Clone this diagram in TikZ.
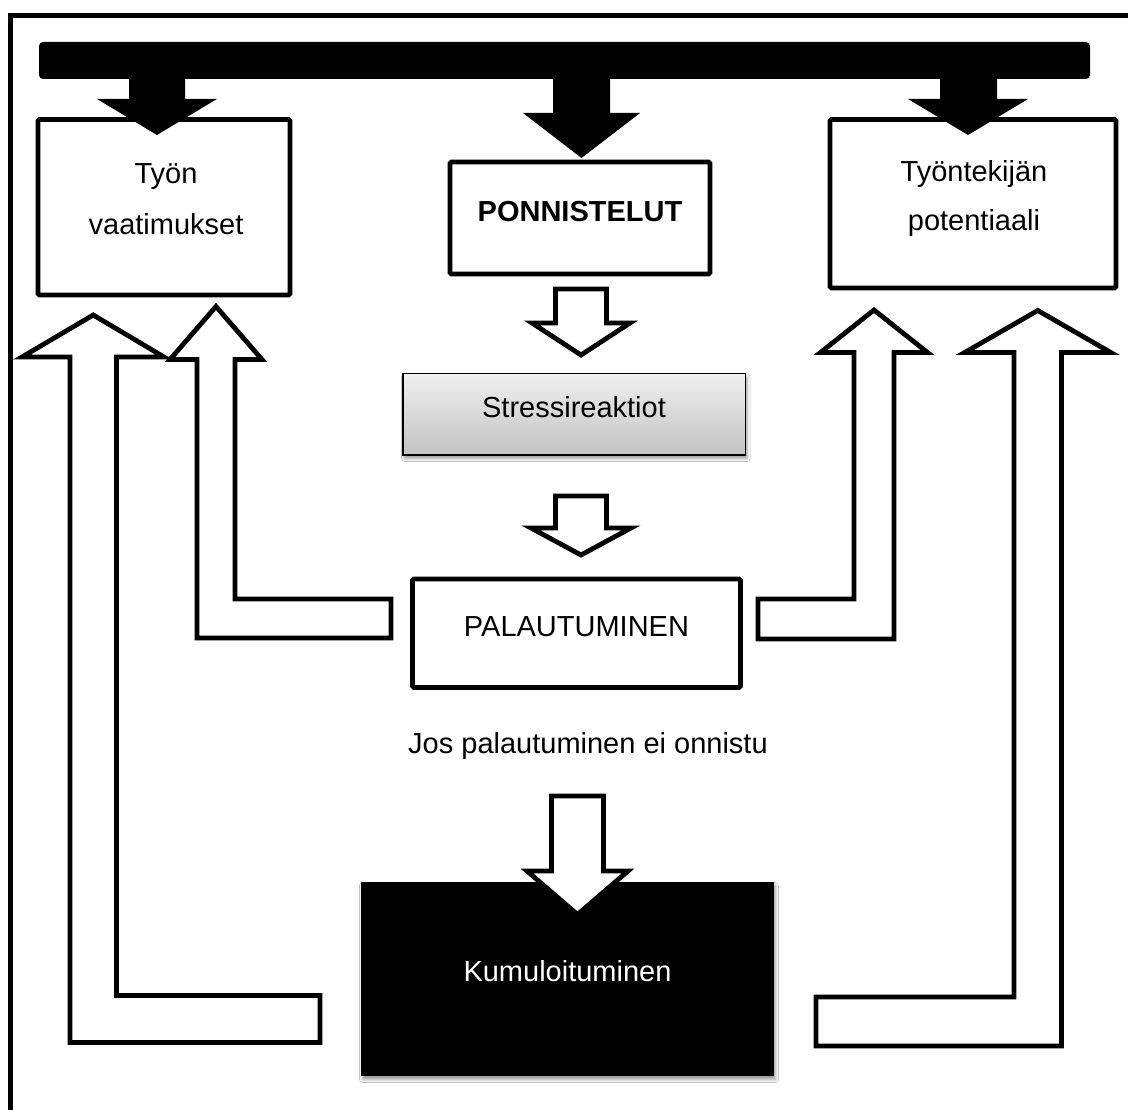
\documentclass[tikz,border=0pt]{standalone}
\usepackage{fontspec}
\setmainfont{Liberation Sans}
\usetikzlibrary{shadows.blur}

\begin{document}
\begin{tikzpicture}[x=1pt,y=-1pt,
  box/.style={draw, line width=4.8pt, fill=white, rounded corners=1.5pt, inner sep=0pt},
  lbl/.style={font=\fontsize{29}{34}\selectfont, anchor=base, inner sep=0pt},
  hollow/.style={draw, line width=4.8pt, fill=white, line join=miter},
  solidarrow/.style={fill=black},
  soft/.style={blur shadow={shadow xshift=1.5pt, shadow yshift=-3.5pt, shadow blur radius=3pt, shadow opacity=40}}]
\useasboundingbox (0,0) rectangle (1128,1110);
\fill[white] (0,0) rectangle (1128,1110);
\clip (0,0) rectangle (1128,1110);

% outer frame (runs past the right and bottom edges)
\draw[line width=5pt] (10,15.5) rectangle (1170,1170);

% top bar
\fill[rounded corners=4pt] (39,42) rectangle (1090,79);

% boxes
\node[box, minimum width=252pt, minimum height=175.5pt] (vaat) at (164,207.25) {};
\node[box, minimum width=260pt, minimum height=112pt] (ponn) at (580,218) {};
\node[box, minimum width=286pt, minimum height=168.5pt] (pot) at (973,203.75) {};
\node[draw, line width=1.5pt, inner sep=0pt, minimum width=342.5pt, minimum height=81.5pt,
      top color=black!6, bottom color=black!24, soft] (stress) at (574.25,414.25) {};
\node[box, minimum width=328pt, minimum height=108.5pt] (pal) at (576.5,633.25) {};
\node[fill=black, inner sep=0pt, minimum width=413pt, minimum height=194pt, soft] (kum) at (567.5,979) {};

% texts
\node[lbl] (t1) at (166,184) {Työn};
\node[lbl] (t2) at (166,235) {vaatimukset};
\node[lbl] (t3) at (974,182) {Työntekijän};
\node[lbl] (t4) at (974,231) {potentiaali};
\node[lbl, font=\fontsize{29}{34}\selectfont\bfseries] (t5) at (580,222) {PONNISTELUT};
\node[lbl] (t6) at (574,417) {Stressireaktiot};
\node[lbl] (t7) at (576.5,636) {PALAUTUMINEN};
\node[lbl] (t8) at (588,753) {Jos palautuminen ei onnistu};
\node[lbl, text=white] (t9) at (567.5,981) {Kumuloituminen};

% solid arrows from the bar
\fill[solidarrow] (129,75) -- (129,99) -- (97,99) -- (157,135) -- (217,99) -- (185,99) -- (185,75) -- cycle;
\fill[solidarrow] (553,75) -- (553,113) -- (523,113) -- (581.5,158) -- (640,113) -- (610,113) -- (610,75) -- cycle;
\fill[solidarrow] (940,75) -- (940,99) -- (908,99) -- (968,135) -- (1028,99) -- (997,99) -- (997,75) -- cycle;

% hollow downward arrows
\draw[hollow] (555.5,289) -- (606.5,289) -- (606.5,323) -- (630,323) -- (581,355) -- (532,323) -- (555.5,323) -- cycle;
\draw[hollow] (555.5,496) -- (606.5,496) -- (606.5,528) -- (631,528) -- (581,555) -- (531,528) -- (555.5,528) -- cycle;
\draw[hollow] (551.5,796) -- (603.5,796) -- (603.5,871) -- (628,871) -- (577.5,914.5) -- (527,871) -- (551.5,871) -- cycle;

% feedback arrows, left side
\draw[hollow] (116.5,357) -- (164,357) -- (93.25,315) -- (22,357) -- (70,357) -- (70,1042.5)
  -- (320,1042.5) -- (320,995.5) -- (116.5,995.5) -- cycle;
\draw[hollow] (235,359.5) -- (262,359.5) -- (216,306.5) -- (170,359.5) -- (197,359.5) -- (197,638)
  -- (391,638) -- (391,599) -- (235,599) -- cycle;

% feedback arrows, right side
\draw[hollow] (854,352.5) -- (820.5,352.5) -- (874,310) -- (927.5,352.5) -- (894,352.5) -- (894,639)
  -- (758,639) -- (758,599) -- (854,599) -- cycle;
\draw[hollow] (1014,352.5) -- (964.75,352.5) -- (1037.75,310.5) -- (1110.75,352.5) -- (1061.5,352.5) -- (1061.5,1046)
  -- (816,1046) -- (816,997) -- (1014,997) -- cycle;
\end{tikzpicture}
\end{document}
